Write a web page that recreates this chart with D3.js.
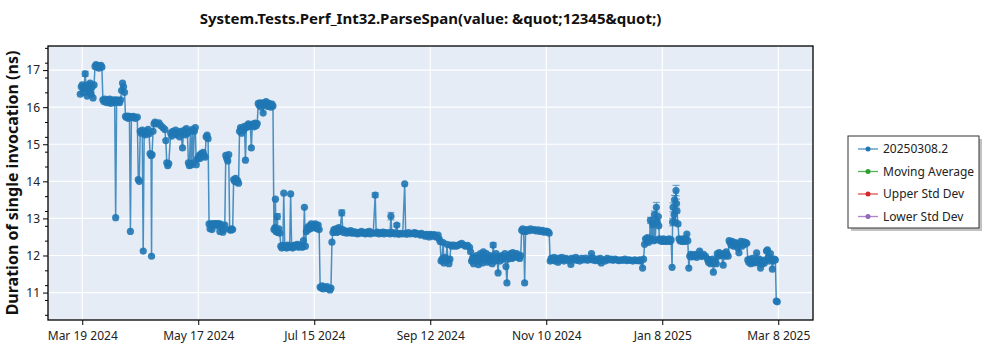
<!DOCTYPE html>
<html><head><meta charset="utf-8">
<script src="https://cdn.jsdelivr.net/npm/d3@7"></script>
<style>
html,body{margin:0;padding:0;background:#fff;}
svg{display:block;font-family:"Noto Sans","Open Sans",sans-serif;}
</style></head>
<body>
<svg id="chart" width="1000" height="350"></svg>
<script>
const title = "System.Tests.Perf_Int32.ParseSpan(value: &quot;12345&quot;)";
const yLabel = "Duration of single invocation (ns)";
const legendLabels = ["20250308.2", "Moving Average", "Upper Std Dev", "Lower Std Dev"];
const legendColors = ["#1f77b4", "#2ca02c", "#d62728", "#9467bd"];
const xTickDates = ["2024-03-19 00","2024-05-17 00","2024-07-15 00","2024-09-12 00","2024-11-10 00","2025-01-08 00","2025-03-08 00"];
const yTicks = [11, 12, 13, 14, 15, 16, 17];
const xDomainDates = ["2024-03-01 14", "2025-03-25 16"];
const yDomain = [10.26, 17.65];

const dates = [
"2024-03-18 00","2024-03-18 12","2024-03-19 00","2024-03-19 12","2024-03-20 00","2024-03-20 12","2024-03-21 00","2024-03-21 12","2024-03-22 00","2024-03-22 12","2024-03-23 00","2024-03-23 12","2024-03-24 00","2024-03-24 12","2024-03-25 00",
"2024-03-25 12","2024-03-26 00","2024-03-26 12","2024-03-27 00","2024-03-27 12","2024-03-28 00","2024-03-28 12","2024-03-29 00",
"2024-03-29 12","2024-03-30 00","2024-03-30 12","2024-03-31 00","2024-03-31 12","2024-04-01 00","2024-04-01 12","2024-04-02 00","2024-04-02 12","2024-04-03 00","2024-04-03 12","2024-04-04 00","2024-04-04 12","2024-04-05 00","2024-04-05 12","2024-04-06 00","2024-04-06 12","2024-04-07 00","2024-04-07 12",
"2024-04-08 00","2024-04-08 12","2024-04-09 00","2024-04-09 12",
"2024-04-10 00","2024-04-10 12","2024-04-11 00","2024-04-11 12","2024-04-12 00","2024-04-12 12","2024-04-13 00","2024-04-13 12","2024-04-14 00","2024-04-15 00","2024-04-16 00",
"2024-04-16 12","2024-04-17 00","2024-04-17 12","2024-04-18 00","2024-04-18 12","2024-04-19 00","2024-04-19 12","2024-04-20 00","2024-04-20 12","2024-04-21 00","2024-04-21 12","2024-04-22 00","2024-04-22 12","2024-04-23 00","2024-04-23 06","2024-04-23 12","2024-04-24 00","2024-04-24 12",
"2024-04-25 00","2024-04-26 00","2024-04-27 00","2024-04-28 00","2024-04-29 00","2024-04-30 00","2024-04-30 12","2024-05-01 00","2024-05-01 12","2024-05-02 00",
"2024-05-03 00","2024-05-03 12","2024-05-04 00","2024-05-05 00","2024-05-05 12","2024-05-06 00","2024-05-07 00","2024-05-07 12","2024-05-08 00","2024-05-09 00","2024-05-09 12","2024-05-10 00","2024-05-10 12","2024-05-11 00","2024-05-11 12","2024-05-12 00","2024-05-12 12","2024-05-13 00","2024-05-13 12","2024-05-14 00","2024-05-14 12","2024-05-15 00","2024-05-15 12",
"2024-05-16 00","2024-05-16 12","2024-05-17 00","2024-05-17 12","2024-05-18 00","2024-05-18 12","2024-05-19 00","2024-05-19 12","2024-05-20 00","2024-05-20 12","2024-05-21 00","2024-05-21 12","2024-05-22 00",
"2024-05-22 12","2024-05-23 00","2024-05-23 12","2024-05-24 00","2024-05-24 12","2024-05-25 00","2024-05-25 12","2024-05-26 00","2024-05-26 12","2024-05-27 00","2024-05-27 12","2024-05-28 00","2024-05-28 12","2024-05-29 00","2024-05-29 12","2024-05-30 00","2024-05-30 12",
"2024-05-31 00","2024-05-31 12","2024-06-01 00","2024-06-01 12","2024-06-02 00","2024-06-02 12","2024-06-03 00","2024-06-03 12","2024-06-04 00","2024-06-04 12","2024-06-05 00","2024-06-05 12","2024-06-06 00","2024-06-06 12",
"2024-06-07 00","2024-06-07 12","2024-06-08 00","2024-06-08 12","2024-06-09 00","2024-06-09 12","2024-06-10 00","2024-06-10 12","2024-06-11 00","2024-06-11 12","2024-06-12 00","2024-06-12 12","2024-06-13 00","2024-06-13 12","2024-06-14 00","2024-06-14 12","2024-06-15 00","2024-06-15 12","2024-06-16 00",
"2024-06-16 12","2024-06-17 00","2024-06-17 12","2024-06-18 00","2024-06-18 12","2024-06-19 00","2024-06-19 12","2024-06-20 00","2024-06-20 12","2024-06-21 00","2024-06-21 12","2024-06-22 00","2024-06-22 12","2024-06-23 00","2024-06-23 12","2024-06-24 00",
"2024-06-24 12","2024-06-25 00","2024-06-25 06","2024-06-25 12","2024-06-26 00","2024-06-26 06","2024-06-26 12","2024-06-27 00","2024-06-27 12",
"2024-06-28 00","2024-06-28 12","2024-06-29 00","2024-06-29 12","2024-06-30 00","2024-06-30 12","2024-07-01 00","2024-07-01 12","2024-07-02 00","2024-07-02 12","2024-07-03 00","2024-07-03 12","2024-07-04 00","2024-07-04 12","2024-07-05 00","2024-07-05 12","2024-07-06 00","2024-07-06 12","2024-07-07 00","2024-07-07 12","2024-07-08 00","2024-07-08 12","2024-07-09 00","2024-07-09 12","2024-07-10 00","2024-07-10 12",
"2024-07-11 00","2024-07-11 12","2024-07-12 00","2024-07-12 12","2024-07-13 00","2024-07-13 12","2024-07-14 00","2024-07-14 12","2024-07-15 00","2024-07-15 12","2024-07-16 00","2024-07-16 12","2024-07-17 00","2024-07-17 12",
"2024-07-18 00","2024-07-18 12","2024-07-19 00","2024-07-19 12","2024-07-20 00","2024-07-21 00","2024-07-21 12","2024-07-22 00","2024-07-23 00","2024-07-23 12",
"2024-07-24 00","2024-07-24 12","2024-07-25 00","2024-07-25 12","2024-07-26 00","2024-07-26 12","2024-07-27 00","2024-07-27 12","2024-07-28 00","2024-07-29 00","2024-07-29 12","2024-07-30 00","2024-07-31 00","2024-07-31 12","2024-08-01 00","2024-08-02 00","2024-08-02 12","2024-08-03 00","2024-08-04 00","2024-08-04 12","2024-08-05 00","2024-08-06 00","2024-08-06 12","2024-08-07 00","2024-08-08 00","2024-08-08 12","2024-08-09 00","2024-08-10 00","2024-08-10 12","2024-08-11 00","2024-08-12 00","2024-08-12 12","2024-08-13 00","2024-08-14 00",
"2024-08-15 00","2024-08-15 12","2024-08-16 00","2024-08-17 00","2024-08-17 12","2024-08-18 00","2024-08-19 00","2024-08-19 12","2024-08-20 00","2024-08-21 00",
"2024-08-22 00","2024-08-22 12","2024-08-23 00","2024-08-23 12","2024-08-24 00","2024-08-25 00","2024-08-26 00","2024-08-26 12","2024-08-27 00","2024-08-28 00",
"2024-08-29 00","2024-08-30 00","2024-08-30 12","2024-08-31 00","2024-09-01 00","2024-09-02 00","2024-09-03 00","2024-09-04 00","2024-09-04 12","2024-09-05 00",
"2024-09-06 00","2024-09-07 00","2024-09-07 12","2024-09-08 00","2024-09-09 00","2024-09-09 12","2024-09-10 00","2024-09-11 00","2024-09-11 12","2024-09-12 00",
"2024-09-13 00","2024-09-13 12","2024-09-14 00","2024-09-15 00",
"2024-09-16 00","2024-09-16 12","2024-09-17 00","2024-09-17 12","2024-09-18 00","2024-09-18 12","2024-09-19 00","2024-09-19 12","2024-09-20 00","2024-09-20 12",
"2024-09-21 00","2024-09-21 12","2024-09-22 00","2024-09-22 12","2024-09-23 00","2024-09-24 00","2024-09-25 00","2024-09-26 00","2024-09-27 00","2024-09-28 00",
"2024-09-29 00","2024-09-30 00","2024-10-01 00","2024-10-02 00",
"2024-10-02 12",
"2024-10-03 00","2024-10-03 12","2024-10-04 00","2024-10-04 12","2024-10-05 00","2024-10-05 12","2024-10-06 00","2024-10-06 12","2024-10-07 00","2024-10-07 12",
"2024-10-08 00","2024-10-08 12","2024-10-09 00","2024-10-09 12","2024-10-10 00","2024-10-10 12","2024-10-11 00","2024-10-11 12","2024-10-12 00","2024-10-12 12",
"2024-10-13 00","2024-10-13 12","2024-10-14 00","2024-10-14 12","2024-10-15 00","2024-10-15 12","2024-10-16 00","2024-10-16 12","2024-10-17 00","2024-10-17 12",
"2024-10-18 00","2024-10-18 12","2024-10-19 00","2024-10-19 12","2024-10-20 00","2024-10-20 12","2024-10-21 00","2024-10-21 12","2024-10-22 00","2024-10-22 12",
"2024-10-23 00","2024-10-23 12","2024-10-24 00","2024-10-24 12","2024-10-25 00","2024-10-25 12","2024-10-26 00","2024-10-26 12","2024-10-27 00","2024-10-27 12",
"2024-10-28 00",
"2024-10-28 12","2024-10-29 00","2024-10-29 12","2024-10-30 00","2024-10-30 12","2024-10-31 00","2024-11-01 00","2024-11-02 00","2024-11-03 00","2024-11-04 00",
"2024-11-05 00","2024-11-06 00","2024-11-07 00","2024-11-08 00","2024-11-09 00","2024-11-10 00","2024-11-11 00","2024-11-11 12",
"2024-11-12 00","2024-11-12 12","2024-11-13 00","2024-11-14 00","2024-11-14 12","2024-11-15 00","2024-11-16 00","2024-11-16 12","2024-11-17 00","2024-11-18 00",
"2024-11-19 00","2024-11-19 12","2024-11-20 00","2024-11-21 00","2024-11-22 00","2024-11-22 12","2024-11-23 00","2024-11-24 00","2024-11-25 00","2024-11-25 12",
"2024-11-26 00","2024-11-27 00","2024-11-28 00","2024-11-29 00","2024-11-30 00","2024-12-01 00","2024-12-02 00","2024-12-03 00","2024-12-03 12","2024-12-04 00",
"2024-12-05 00","2024-12-06 00","2024-12-07 00","2024-12-07 12","2024-12-08 00","2024-12-09 00","2024-12-10 00","2024-12-11 00","2024-12-12 00","2024-12-13 00",
"2024-12-14 00","2024-12-15 00","2024-12-16 00","2024-12-17 00","2024-12-18 00","2024-12-19 00","2024-12-20 00","2024-12-21 00","2024-12-22 00","2024-12-23 00",
"2024-12-24 00","2024-12-25 00","2024-12-26 00","2024-12-27 00","2024-12-27 12","2024-12-28 00","2024-12-29 00","2024-12-29 12",
"2024-12-30 00","2024-12-30 12","2024-12-31 00","2024-12-31 12","2025-01-01 00","2025-01-01 12","2025-01-02 00","2025-01-02 12","2025-01-03 00","2025-01-03 12",
"2025-01-04 00","2025-01-04 12","2025-01-05 00","2025-01-05 12","2025-01-06 00","2025-01-06 06","2025-01-06 12","2025-01-07 00","2025-01-07 12","2025-01-08 00",
"2025-01-08 12","2025-01-09 00","2025-01-09 12","2025-01-10 00","2025-01-10 12","2025-01-11 00","2025-01-11 12","2025-01-12 00","2025-01-12 12","2025-01-13 00",
"2025-01-13 06","2025-01-13 12","2025-01-14 00","2025-01-14 06","2025-01-14 12","2025-01-15 00","2025-01-15 06","2025-01-15 12","2025-01-16 00","2025-01-16 12",
"2025-01-17 00","2025-01-17 12","2025-01-18 00","2025-01-18 12","2025-01-19 00","2025-01-19 12","2025-01-20 00","2025-01-20 12","2025-01-21 00",
"2025-01-21 12","2025-01-22 00","2025-01-22 12","2025-01-23 00","2025-01-23 12","2025-01-24 00","2025-01-25 00","2025-01-25 12","2025-01-26 00","2025-01-27 00",
"2025-01-27 12","2025-01-28 00","2025-01-29 00","2025-01-30 00","2025-01-31 00","2025-01-31 12","2025-02-01 00","2025-02-01 12","2025-02-02 00","2025-02-02 12",
"2025-02-03 00","2025-02-03 12","2025-02-04 00","2025-02-04 12","2025-02-05 00","2025-02-05 12","2025-02-06 00","2025-02-06 12","2025-02-07 00","2025-02-08 00",
"2025-02-08 12","2025-02-09 00","2025-02-09 12","2025-02-10 00","2025-02-10 12","2025-02-11 00","2025-02-11 12","2025-02-12 00","2025-02-12 12","2025-02-13 00",
"2025-02-13 12","2025-02-14 00","2025-02-14 12","2025-02-15 00","2025-02-15 12","2025-02-16 00","2025-02-16 12","2025-02-17 00","2025-02-17 12","2025-02-18 00",
"2025-02-18 12","2025-02-19 00","2025-02-19 12","2025-02-20 00","2025-02-20 12","2025-02-21 00","2025-02-21 12","2025-02-22 00","2025-02-22 12","2025-02-23 00",
"2025-02-23 12","2025-02-24 00","2025-02-24 12","2025-02-25 00","2025-02-25 12","2025-02-26 00","2025-02-26 12","2025-02-27 00","2025-02-27 12","2025-02-28 00",
"2025-02-28 12","2025-03-01 00","2025-03-01 12","2025-03-02 00","2025-03-02 12","2025-03-03 00","2025-03-03 12","2025-03-04 00","2025-03-04 12","2025-03-05 00",
"2025-03-05 12","2025-03-06 00","2025-03-06 12","2025-03-07 00","2025-03-07 12"
];

const values = [
16.35,16.55,16.6,16.4,16.55,16.9,16.5,16.3,16.6,16.45,16.65,16.35,16.55,16.25,16.6,
17.1,17.15,17.08,17.12,17.05,17.1,17.13,17.08,
16.2,16.15,16.22,16.18,16.12,16.2,16.15,16.22,16.1,16.18,16.15,16.2,16.12,13.02,16.2,16.15,16.18,16.12,16.2,
16.45,16.65,16.55,16.4,
15.75,15.72,15.76,15.7,15.75,12.65,15.74,15.72,15.75,15.7,15.73,
14.05,14.0,15.35,15.3,15.38,12.12,15.32,15.25,15.35,15.3,15.4,15.28,14.75,14.7,11.98,14.72,15.35,15.55,
15.6,15.55,15.58,15.5,15.45,15.4,15.1,14.5,14.42,14.48,
15.3,15.22,15.35,15.28,15.38,15.25,15.32,15.2,15.35,14.9,15.3,15.38,15.25,15.42,15.3,14.5,14.42,15.35,14.45,15.4,14.5,15.35,15.45,
14.45,14.6,14.65,14.7,14.62,14.75,14.68,14.78,14.7,14.65,15.2,15.25,15.15,
12.85,12.72,12.85,12.7,12.85,12.82,12.86,12.84,12.85,12.8,12.86,12.65,12.84,12.75,12.63,12.7,12.82,
14.7,14.62,14.55,14.72,12.7,12.68,12.72,12.7,14.05,14.0,14.08,13.98,14.02,13.95,
15.35,15.45,15.3,15.42,15.38,15.48,14.57,15.45,15.5,15.55,15.48,15.52,14.9,15.5,15.55,15.47,15.57,15.5,15.56,
16.1,16.05,16.12,16.0,16.1,15.84,16.12,16.05,16.15,16.08,16.02,16.1,16.05,16.0,16.08,16.03,
12.7,12.75,13.52,12.65,12.7,13.05,12.62,12.72,12.6,
12.25,12.2,12.27,13.68,12.22,12.25,12.2,12.28,12.22,12.26,13.66,12.24,12.2,12.27,12.23,12.28,12.25,12.3,12.22,12.27,12.24,12.26,12.22,12.4,13.3,12.25,
12.65,12.75,12.7,12.8,12.72,12.85,12.78,12.82,12.75,12.85,12.8,12.72,12.82,12.7,
11.15,11.12,11.18,11.1,11.15,11.12,11.16,11.1,11.07,11.12,
12.36,12.62,12.7,12.65,12.72,12.62,12.68,12.75,12.65,13.15,12.7,12.62,12.66,12.6,12.65,12.62,12.67,12.6,12.64,12.6,12.63,12.58,12.62,12.6,12.65,12.6,12.62,12.58,12.63,12.6,12.65,12.58,12.62,12.6,
13.63,12.6,12.63,12.58,12.62,12.6,12.63,12.58,12.62,12.6,
12.62,12.58,13.06,12.6,12.62,12.58,12.82,12.6,12.57,12.6,
12.58,13.93,12.6,12.57,12.62,12.58,12.6,12.62,12.57,12.6,
12.58,12.55,12.6,12.57,12.55,12.52,12.57,12.55,12.5,12.57,
12.55,12.52,12.56,12.5,
12.55,12.45,12.38,11.85,11.9,12.35,11.8,11.95,11.85,12.3,
11.88,11.78,11.9,12.28,12.25,12.28,12.25,12.27,12.3,12.33,
12.28,12.25,12.27,12.22,
12.1,
11.85,11.92,11.78,11.95,11.85,12.0,11.9,11.75,11.95,12.05,
11.88,11.8,12.1,11.92,11.9,12.05,11.82,11.95,11.85,12.0,
11.88,11.78,12.28,11.95,11.85,12.05,11.9,11.53,11.98,11.85,
11.95,12.0,11.9,11.95,12.05,11.7,11.26,11.9,12.0,11.95,
12.05,11.92,12.08,11.95,12.02,11.98,12.05,11.95,12.0,11.92,
12.0,
12.68,12.72,12.65,11.26,12.65,12.7,12.67,12.72,12.68,12.7,
12.66,12.69,12.65,12.68,12.63,12.66,12.64,12.6,
11.85,11.92,11.88,11.95,11.85,11.9,11.82,11.93,11.88,11.95,
11.85,11.9,11.92,11.87,11.9,11.76,11.92,11.88,11.95,11.87,
11.9,11.85,11.92,11.88,11.93,11.87,11.9,12.05,11.88,11.92,
11.86,11.9,11.85,11.92,11.8,11.88,11.85,11.92,11.88,11.9,
11.87,11.9,11.88,11.86,11.88,11.87,11.9,11.86,11.88,11.87,
11.85,11.88,11.86,11.86,11.88,11.85,11.66,11.9,
12.3,12.45,12.4,12.48,12.35,12.42,12.95,12.45,12.85,12.4,
13.1,12.42,13.3,12.9,13.05,12.8,12.45,12.4,12.42,12.38,
12.45,12.4,12.43,12.38,12.42,12.4,12.45,12.38,12.42,11.68,
12.9,13.3,13.1,13.5,12.9,13.75,13.4,13.2,12.85,12.45,
12.4,12.43,12.38,12.45,12.42,12.38,12.45,12.58,12.4,
11.66,11.98,12.03,11.96,12.02,11.98,12.03,11.95,12.0,12.12,
12.0,11.97,12.03,11.98,11.9,11.82,11.88,11.78,11.85,11.9,
11.55,11.8,11.85,11.78,12.05,11.98,12.08,12.02,12.0,11.74,
12.05,11.98,12.1,12.03,11.98,12.4,12.35,12.28,12.38,12.3,
12.25,12.35,12.28,12.33,12.2,12.07,12.3,12.38,12.25,12.32,
12.37,12.3,12.35,12.33,11.88,11.82,11.9,11.78,11.85,11.92,
11.8,11.88,11.83,12.07,11.88,11.8,11.9,11.66,11.85,11.78,
11.85,11.8,11.88,12.12,12.15,11.95,11.85,12.05,11.9,11.63,
11.85,11.9,11.88,10.77,10.75
];

// points whose standard deviation is large enough to show an error bar
const errDates = ["2024-03-20 12","2024-06-26 06","2024-07-29 00","2024-08-15 00","2024-08-23 00","2024-08-26 00","2024-10-14 00","2025-01-02 00","2025-01-03 00","2025-01-04 00","2025-01-05 00","2025-01-13 06","2025-01-13 12","2025-01-14 06","2025-01-15 00","2025-01-15 06"];
const errSizes = [0.07,0.08,0.08,0.06,0.1,0.04,0.06,0.08,0.1,0.1,0.13,0.1,0.12,0.12,0.14,0.12];

const parse = d3.timeParse("%Y-%m-%d %H");
const n = Math.min(dates.length, values.length);
const data = [];
for (let i = 0; i < n; i++) data.push({d: parse(dates[i]), v: values[i], key: dates[i]});
const errMap = new Map(errDates.map((k, i) => [k, errSizes[i]]));

const W = 1000, H = 350;
const m = {l: 48, r: 187, t: 46, b: 30};
const svg = d3.select("#chart");
const x = d3.scaleTime().domain(xDomainDates.map(parse)).range([m.l, W - m.r]);
const y = d3.scaleLinear().domain(yDomain).range([H - m.b, m.t]);

svg.append("rect").attr("x", m.l).attr("y", m.t).attr("width", W - m.r - m.l).attr("height", H - m.b - m.t).attr("fill", "#e5ecf6");

const xt = xTickDates.map(parse);
const g = svg.append("g");
g.selectAll("line.gx").data(xt).enter().append("line")
  .attr("x1", d => x(d)).attr("x2", d => x(d)).attr("y1", m.t).attr("y2", H - m.b)
  .attr("stroke", "#fff").attr("stroke-width", 1.2);
g.selectAll("line.gy").data(yTicks).enter().append("line")
  .attr("y1", d => y(d)).attr("y2", d => y(d)).attr("x1", m.l).attr("x2", W - m.r)
  .attr("stroke", "#fff").attr("stroke-width", 1.2);

svg.append("clipPath").attr("id", "clip").append("rect")
  .attr("x", m.l).attr("y", m.t).attr("width", W - m.r - m.l).attr("height", H - m.b - m.t);
const pg = svg.append("g").attr("clip-path", "url(#clip)");

pg.append("path").datum(data)
  .attr("d", d3.line().x(d => x(d.d)).y(d => y(d.v)))
  .attr("fill", "none").attr("stroke", "#1f77b4").attr("stroke-width", 1.5).attr("stroke-opacity", 0.8);

const errData = data.filter(d => errMap.has(d.key));
const eb = pg.append("g").attr("stroke", "#1f77b4").attr("stroke-opacity", 0.6).attr("stroke-width", 1.2);
errData.forEach(d => {
  const e = errMap.get(d.key), cx = x(d.d);
  eb.append("line").attr("x1", cx).attr("x2", cx).attr("y1", y(d.v - e)).attr("y2", y(d.v + e));
  eb.append("line").attr("x1", cx - 3.5).attr("x2", cx + 3.5).attr("y1", y(d.v + e)).attr("y2", y(d.v + e));
  eb.append("line").attr("x1", cx - 3.5).attr("x2", cx + 3.5).attr("y1", y(d.v - e)).attr("y2", y(d.v - e));
});

pg.selectAll("circle").data(data).enter().append("circle")
  .attr("cx", d => x(d.d)).attr("cy", d => y(d.v)).attr("r", 3.6)
  .attr("fill", "#1f77b4").attr("fill-opacity", 0.9);

// axes
const fmt = d3.timeFormat("%b %-d %Y");
const xAxis = svg.append("g").attr("transform", `translate(0,${H - m.b})`)
  .call(d3.axisBottom(x).tickValues(xt).tickFormat(fmt).tickSize(5).tickSizeOuter(0));
const yAxis = svg.append("g").attr("transform", `translate(${m.l},0)`)
  .call(d3.axisLeft(y).tickValues(yTicks).tickFormat(d3.format("d")).tickSize(5).tickSizeOuter(0));
const minorTicks = d3.range(52, 177, 2).map(v => v / 5).filter(v => v % 1 !== 0 && v >= yDomain[0] && v <= yDomain[1]);
svg.append("g").attr("transform", `translate(${m.l},0)`)
  .call(d3.axisLeft(y).tickValues(minorTicks).tickFormat("").tickSize(3).tickSizeOuter(0))
  .select(".domain").remove();
[xAxis, yAxis].forEach(a => {
  a.select(".domain").remove();
  a.selectAll("text").attr("font-family", "Noto Sans, Open Sans, sans-serif").attr("font-size", 12).attr("fill", "#222");
});
xAxis.selectAll("text").attr("dy", "1.0em");

svg.append("rect").attr("x", m.l).attr("y", m.t).attr("width", W - m.r - m.l).attr("height", H - m.b - m.t)
  .attr("fill", "none").attr("stroke", "#000").attr("stroke-width", 1.3);

svg.append("text").attr("x", (m.l + W - m.r) / 2).attr("y", 24).attr("text-anchor", "middle")
  .attr("font-size", 15).attr("font-weight", "bold").attr("fill", "#111").text(title);

svg.append("text").attr("transform", `translate(18,${(m.t + H - m.b) / 2}) rotate(-90)`)
  .attr("text-anchor", "middle").attr("font-size", 16).attr("font-weight", "bold").attr("fill", "#111").text(yLabel);

// legend
const lg = svg.append("g").attr("transform", "translate(848,136)");
lg.append("rect").attr("x", 3).attr("y", 3).attr("width", 131).attr("height", 92).attr("fill", "#999").attr("opacity", 0.6);
lg.append("rect").attr("x", 0).attr("y", 0).attr("width", 131).attr("height", 92).attr("fill", "#fff").attr("stroke", "#333").attr("stroke-width", 1);
legendLabels.forEach((t, i) => {
  const yy = 13 + i * 22.5;
  lg.append("line").attr("x1", 10).attr("x2", 30).attr("y1", yy).attr("y2", yy).attr("stroke", legendColors[i]).attr("stroke-width", 1.3).attr("stroke-opacity", 0.8);
  lg.append("circle").attr("cx", 20).attr("cy", yy).attr("r", 2.5).attr("fill", legendColors[i]);
  lg.append("text").attr("x", 35).attr("y", yy).attr("dy", "0.35em").attr("font-size", 12).attr("fill", "#222").text(t);
});
</script>
</body></html>
